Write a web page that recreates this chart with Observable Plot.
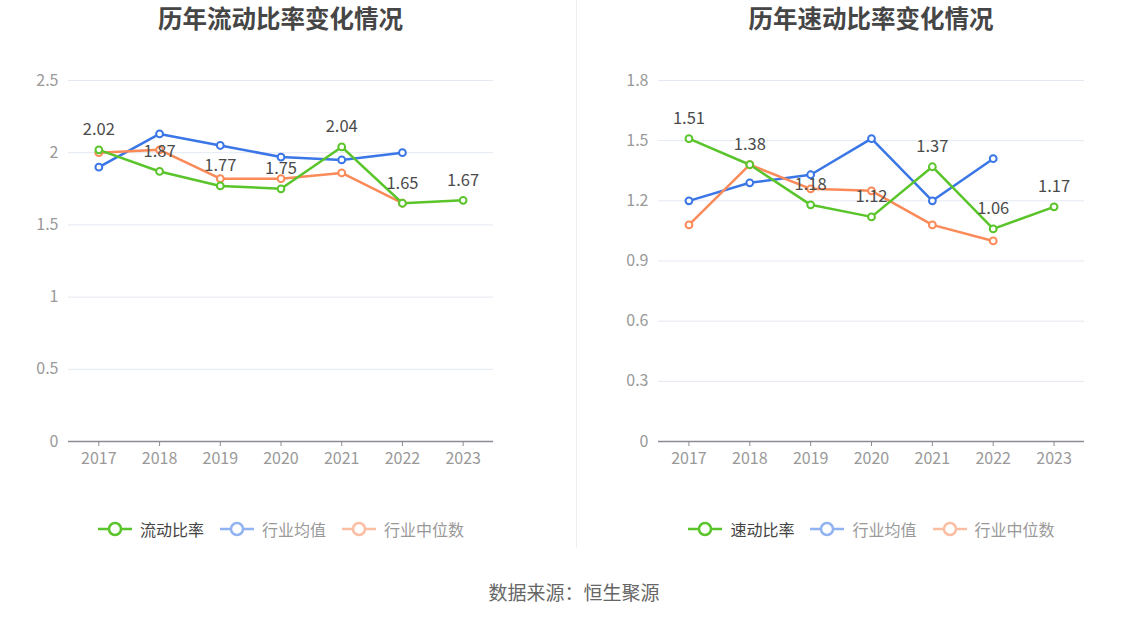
<!DOCTYPE html>
<html><head><meta charset="utf-8">
<script src="https://cdn.jsdelivr.net/npm/d3@7"></script>
<script src="https://cdn.jsdelivr.net/npm/@observablehq/plot@0.6"></script>
<style>
body{margin:0;background:#fff;font-family:"Noto Sans CJK SC",sans-serif;}
#wrap{position:relative;width:1148px;height:619px;overflow:hidden;}
.panel{position:absolute;top:0;width:574px;height:560px;}
.title{position:absolute;top:0px;text-align:center;font-size:24.5px;font-weight:bold;color:#464646;white-space:nowrap;}
.legend{position:absolute;top:517px;display:flex;justify-content:center;gap:15px;font-size:16px;white-space:nowrap;}
.li{display:flex;align-items:center;gap:7px;}
#divider{position:absolute;left:576px;top:0;width:1px;height:548px;background:#eeeeee;}
#caption{position:absolute;top:578px;left:0;width:1148px;text-align:center;font-size:19px;color:#666;}
</style></head>
<body><div id="wrap"></div>
<script>
const years = ["2017","2018","2019","2020","2021","2022","2023"];
const currentRatio = [2.02,1.87,1.77,1.75,2.04,1.65,1.67];
const currentAvg = [1.90,2.13,2.05,1.97,1.95,2.00,null];
const currentMedian = [2.00,2.02,1.82,1.82,1.86,1.65,null];
const quickRatio = [1.51,1.38,1.18,1.12,1.37,1.06,1.17];
const quickAvg = [1.20,1.29,1.33,1.51,1.20,1.41,null];
const quickMedian = [1.08,1.38,1.26,1.25,1.08,1.00,null];
const leftTicks = [0,0.5,1,1.5,2,2.5];
const rightTicks = [0,0.3,0.6,0.9,1.2,1.5,1.8];
const titles = ["历年流动比率变化情况","历年速动比率变化情况"];
const seriesNames = [["流动比率","行业均值","行业中位数"],["速动比率","行业均值","行业中位数"]];
const colors = ["#5ac42b","#3a76e6","#fb8a59"];

const wrap = document.getElementById("wrap");
function panel(idx, left, mL, mR, main, avg, med, ticks, ymax) {
  const div = document.createElement("div");
  div.className = "panel"; div.style.left = left + "px";
  const rows = (arr, s) => years.map((y, i) => ({year: y, v: arr[i], s}));
  const all = [...rows(avg,1), ...rows(med,2), ...rows(main,0)];
  const font = '"Noto Sans CJK SC", sans-serif';
  const chart = Plot.plot({
    width: 574, height: 480,
    marginLeft: mL, marginRight: mR, marginTop: 80, marginBottom: 39,
    style: {fontFamily: font, fontSize: "16px", background: "transparent"},
    x: {type: "point", domain: years, padding: 0.5, round: false},
    y: {domain: [0, ymax], ticks: ticks},
    marks: [
      Plot.gridY(ticks.filter(t => t > 0), {stroke: "#e3e8f2", strokeOpacity: 1, strokeWidth: 1}),
      Plot.axisY(ticks, {tickSize: 0, tickPadding: 10, stroke: "none", fill: "#999", fontSize: 16, tickFormat: d => String(d), label: null}),
      Plot.ruleY([0], {stroke: "#8a8d96", strokeWidth: 1.3}),
      Plot.axisX({tickSize: 5, tickPadding: 6, stroke: "#8a8d96", fill: "#999", fontSize: 16, label: null}),
      ...[1,2,0].map(s => Plot.line(all.filter(d => d.s === s && d.v != null), {x: "year", y: "v", stroke: colors[s], strokeWidth: 2.5})),
      ...[1,2,0].map(s => Plot.dot(all.filter(d => d.s === s && d.v != null), {x: "year", y: "v", r: 3.4, fill: "#fff", stroke: colors[s], strokeWidth: 2})),
      Plot.text(rows(main,0), {x: "year", y: "v", text: d => d.v.toFixed(2), dy: -20, fill: "#4a4a4a", fontSize: 16.5})
    ]
  });
  chart.style.position = "absolute"; chart.style.top = "0px"; chart.style.left = "0px";
  div.appendChild(chart);
  const pw = 574 - mL - mR;
  const t = document.createElement("div"); t.className = "title"; t.textContent = titles[idx];
  t.style.left = mL + "px"; t.style.width = pw + "px";
  div.appendChild(t);
  const lg = document.createElement("div"); lg.className = "legend";
  lg.style.left = mL + "px"; lg.style.width = pw + "px";
  seriesNames[idx].forEach((name, s) => {
    const it = document.createElement("div"); it.className = "li";
    const op = s === 0 ? 1 : 0.55;
    it.innerHTML = `<svg width="36" height="16" style="opacity:${op}"><line x1="1" x2="35" y1="8" y2="8" stroke="${colors[s]}" stroke-width="2.5"/><circle cx="18" cy="8" r="6" fill="#fff" stroke="${colors[s]}" stroke-width="2.5"/></svg><span style="color:${s===0?'#444':'#999'}">${name}</span>`;
    lg.appendChild(it);
  });
  div.appendChild(lg);
  wrap.appendChild(div);
}
panel(0, 0, 68, 81, currentRatio, currentAvg, currentMedian, leftTicks, 2.5);
panel(1, 574, 84, 64, quickRatio, quickAvg, quickMedian, rightTicks, 1.8);
const dv = document.createElement("div"); dv.id = "divider"; wrap.appendChild(dv);
const cap = document.createElement("div"); cap.id = "caption"; cap.textContent = "数据来源：恒生聚源"; wrap.appendChild(cap);
</script></body></html>
